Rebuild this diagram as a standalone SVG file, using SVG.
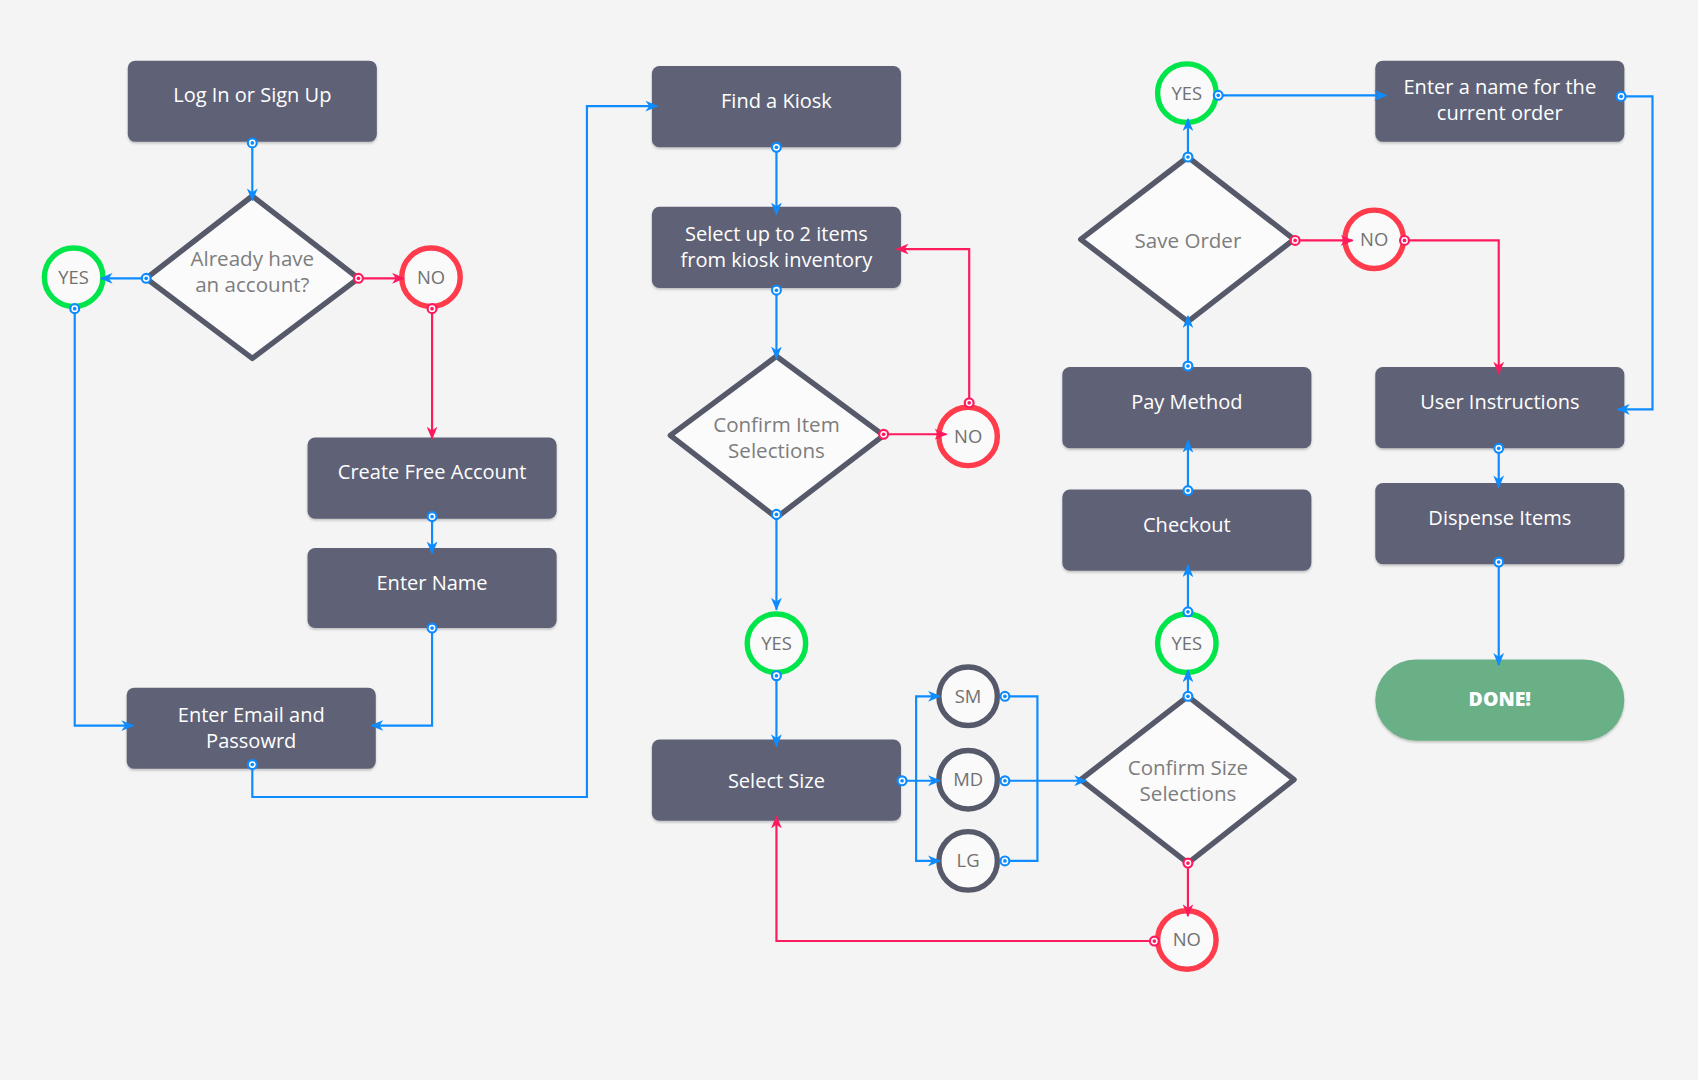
<svg xmlns="http://www.w3.org/2000/svg" width="1698" height="1080" viewBox="0 0 1698 1080">
<defs>
<style>
.box{fill:#5e6276;filter:url(#sh)}
.bt{fill:#ffffff;font-family:"Open Sans","Liberation Sans",sans-serif;font-size:18.5px;text-anchor:middle}
.dia{fill:#fbfbfb;stroke:#565969;stroke-width:5;stroke-linejoin:round}
.dt{fill:#7d7d7d;font-family:"Open Sans","Liberation Sans",sans-serif;font-size:19px;text-anchor:middle}
.ct{fill:#717171;font-family:"Open Sans","Liberation Sans",sans-serif;font-size:17px;text-anchor:middle}
.yes{fill:#fafafa;stroke:#00e64a;stroke-width:5}
.no{fill:#fafafa;stroke:#ff3b4c;stroke-width:5}
.sz{fill:#fafafa;stroke:#565969;stroke-width:5}
.cb{fill:none;stroke:#0d8bff;stroke-width:2;marker-start:url(#db);marker-end:url(#ab)}
.cr{fill:none;stroke:#ff1a5e;stroke-width:2;marker-start:url(#dr);marker-end:url(#ar)}
.cbn{fill:none;stroke:#0d8bff;stroke-width:2;marker-end:url(#ab)}
.cbd{fill:none;stroke:#0d8bff;stroke-width:2;marker-start:url(#db)}
</style>
<filter id="sh" x="-5%" y="-10%" width="110%" height="130%">
<feDropShadow dx="0" dy="1.5" stdDeviation="1" flood-color="#000" flood-opacity="0.22"/>
</filter>
<marker id="ab" viewBox="0 0 12 10" refX="11" refY="5" markerWidth="12" markerHeight="10" markerUnits="userSpaceOnUse" orient="auto"><path d="M0,0 L12,5 L0,10 L3.5,5 z" fill="#0d8bff"/></marker>
<marker id="ar" viewBox="0 0 12 10" refX="11" refY="5" markerWidth="12" markerHeight="10" markerUnits="userSpaceOnUse" orient="auto"><path d="M0,0 L12,5 L0,10 L3.5,5 z" fill="#ff1a5e"/></marker>
<marker id="db" viewBox="-6 -6 12 12" refX="0" refY="0" markerWidth="12" markerHeight="12" markerUnits="userSpaceOnUse"><circle r="4.1" fill="#fff" stroke="#0d8bff" stroke-width="2"/><circle r="1.7" fill="#0d8bff"/></marker>
<marker id="dr" viewBox="-6 -6 12 12" refX="0" refY="0" markerWidth="12" markerHeight="12" markerUnits="userSpaceOnUse"><circle r="4.1" fill="#fff" stroke="#ff1a5e" stroke-width="2"/><circle r="1.7" fill="#ff1a5e"/></marker>
</defs>
<rect x="0" y="0" width="1698" height="1080" fill="#f4f4f4"/>
<g transform="scale(1.0829)">
<g id="n-login"><rect class="box" x="118" y="56" width="230" height="75" rx="7"/><text class="bt" x="233" y="94.5">Log In or Sign Up</text></g>
<g id="n-create"><rect class="box" x="284" y="404" width="230" height="75" rx="7"/><text class="bt" x="399" y="442.5">Create Free Account</text></g>
<g id="n-name"><rect class="box" x="284" y="506" width="230" height="74" rx="7"/><text class="bt" x="399" y="544.5">Enter Name</text></g>
<g id="n-email"><rect class="box" x="117" y="635" width="230" height="75" rx="7"/><text class="bt" x="232" y="667">Enter Email and<tspan x="232" dy="23.5">Passowrd</tspan></text></g>
<g id="n-kiosk"><rect class="box" x="602" y="61" width="230" height="75" rx="7"/><text class="bt" x="717" y="99.5">Find a Kiosk</text></g>
<g id="n-items"><rect class="box" x="602" y="191" width="230" height="75" rx="7"/><text class="bt" x="717" y="223">Select up to 2 items<tspan x="717" dy="23.5">from kiosk inventory</tspan></text></g>
<g id="n-size"><rect class="box" x="602" y="683" width="230" height="75" rx="7"/><text class="bt" x="717" y="728">Select Size</text></g>
<g id="n-pay"><rect class="box" x="981" y="339" width="230" height="75" rx="7"/><text class="bt" x="1096" y="377.5">Pay Method</text></g>
<g id="n-checkout"><rect class="box" x="981" y="452" width="230" height="75" rx="7"/><text class="bt" x="1096" y="491">Checkout</text></g>
<g id="n-ordername"><rect class="box" x="1270" y="56" width="230" height="75" rx="7"/><text class="bt" x="1385" y="87">Enter a name for the<tspan x="1385" dy="23.5">current order</tspan></text></g>
<g id="n-instr"><rect class="box" x="1270" y="339" width="230" height="75" rx="7"/><text class="bt" x="1385" y="377.5">User Instructions</text></g>
<g id="n-dispense"><rect class="box" x="1270" y="446" width="230" height="75" rx="7"/><text class="bt" x="1385" y="484.5">Dispense Items</text></g>
<g id="n-done"><rect x="1270" y="609" width="230" height="75" rx="37.5" fill="#69b087" filter="url(#sh)"/><text x="1385" y="652" fill="#ffffff" font-family="'Open Sans','Liberation Sans',sans-serif" font-size="18px" font-weight="800" text-anchor="middle">DONE!</text></g>

<g id="d-account"><polygon class="dia" points="233,181 331,257 233,331 135,257"/><text class="dt" x="233" y="246">Already have<tspan x="233" dy="24">an account?</tspan></text></g>
<g id="d-items"><polygon class="dia" points="717,329 816,402 717,478 619,402"/><text class="dt" x="717" y="399">Confirm Item<tspan x="717" dy="24">Selections</tspan></text></g>
<g id="d-save"><polygon class="dia" points="1097,145 1195,221 1097,297 998,221"/><text class="dt" x="1097" y="229">Save Order</text></g>
<g id="d-size"><polygon class="dia" points="1097,643 1195,720 1097,797 998,720"/><text class="dt" x="1097" y="716">Confirm Size<tspan x="1097" dy="24">Selections</tspan></text></g>

<g id="c-yes1"><circle class="yes" cx="68" cy="256" r="27"/><text class="ct" x="68" y="262">YES</text></g>
<g id="c-no1"><circle class="no" cx="398" cy="256" r="27"/><text class="ct" x="398" y="262">NO</text></g>
<g id="c-no2"><circle class="no" cx="894" cy="403" r="27"/><text class="ct" x="894" y="409">NO</text></g>
<g id="c-yes2"><circle class="yes" cx="717" cy="594" r="27"/><text class="ct" x="717" y="600">YES</text></g>
<g id="c-yes3"><circle class="yes" cx="1096" cy="86" r="27"/><text class="ct" x="1096" y="92">YES</text></g>
<g id="c-no3"><circle class="no" cx="1269" cy="221" r="27"/><text class="ct" x="1269" y="227">NO</text></g>
<g id="c-yes4"><circle class="yes" cx="1096" cy="594" r="27"/><text class="ct" x="1096" y="600">YES</text></g>
<g id="c-no4"><circle class="no" cx="1096" cy="868" r="27"/><text class="ct" x="1096" y="874">NO</text></g>
<g id="c-sm"><circle class="sz" cx="894" cy="643" r="27"/><text class="ct" x="894" y="649">SM</text></g>
<g id="c-md"><circle class="sz" cx="894" cy="720" r="27"/><text class="ct" x="894" y="726">MD</text></g>
<g id="c-lg"><circle class="sz" cx="894" cy="795" r="27"/><text class="ct" x="894" y="801">LG</text></g>

<g id="connectors">
<path class="cb" d="M233,132 V185"/>
<path class="cb" d="M135,257 H93"/>
<path class="cr" d="M331,257 H373"/>
<path class="cr" d="M399,285 V405"/>
<path class="cb" d="M69,285 V670 H123"/>
<path class="cb" d="M399,477 V511"/>
<path class="cb" d="M399,580 V670 H343"/>
<path class="cb" d="M233,706 V736 H542 V98 H607"/>
<path class="cb" d="M717,136 V198"/>
<path class="cb" d="M717,268 V331"/>
<path class="cr" d="M816,401 H874"/>
<path class="cr" d="M895,372 V230 H828"/>
<path class="cb" d="M717,475 V563"/>
<path class="cb" d="M717,624 V689"/>
<path class="cb" d="M833,721 H868"/>
<path class="cbn" d="M846,721 V643 H868"/>
<path class="cbn" d="M846,721 V795 H868"/>
<path class="cbd" d="M928,643 H958 V721"/>
<path class="cbd" d="M928,795 H958 V721"/>
<path class="cb" d="M928,721 H1003"/>
<path class="cb" d="M1097,643 V619"/>
<path class="cb" d="M1097,565 V522"/>
<path class="cb" d="M1097,453 V407"/>
<path class="cb" d="M1097,338 V292"/>
<path class="cb" d="M1097,145 V110"/>
<path class="cb" d="M1125,88 H1280"/>
<path class="cr" d="M1196,222 H1249"/>
<path class="cr" d="M1297,222 H1384 V345"/>
<path class="cb" d="M1497,89 H1526 V378 H1494"/>
<path class="cb" d="M1384,414 V450"/>
<path class="cb" d="M1384,519 V614"/>
<path class="cr" d="M1097,797 V846"/>
<path class="cr" d="M1066,869 H717 V754"/>
</g>
</g>
</svg>
